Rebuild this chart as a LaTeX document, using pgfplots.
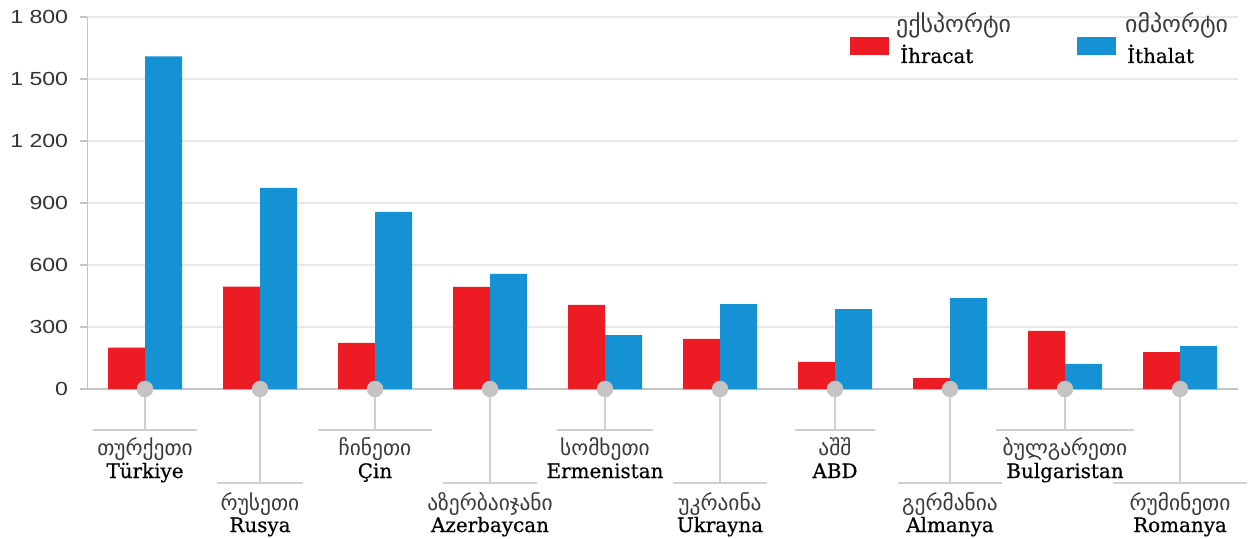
\documentclass[border=0pt]{standalone}
\usepackage{pgfplots}
\pgfplotsset{compat=1.18}
\usepackage{pgfplotstable}
\usepackage{fontspec}
\setmainfont{DejaVu Serif}[FakeBold=0.4]
\newfontfamily\tur{DejaVu Serif}[FakeBold=0.5]
\newfontfamily\geo{DejaVu Sans}
\newfontfamily\numfont{Liberation Sans}

\definecolor{expred}{HTML}{ED1C24}
\definecolor{impblue}{HTML}{1592D3}
\definecolor{axgray}{HTML}{C4C4C4}
\definecolor{gridgray}{HTML}{E8E8E8}
\definecolor{leadgray}{HTML}{CFCFCF}
\definecolor{dotgray}{HTML}{C4C4C4}
\definecolor{geotext}{HTML}{3A3A3A}

% export / import by country
\pgfplotstableread{
idx exp imp
0 200 1610
1 495 973
2 223 857
3 494 557
4 407 261
5 242 411
6 131 387
7 53 440
8 281 121
9 179 208
}\trade

% #1 index, #2 half width of the rule, #3 georgian, #4 turkish
\newcommand{\uplab}[4]{%
  \draw[leadgray, line width=2bp] (axis cs:#1,0) -- ([yshift=-41bp]axis cs:#1,0);
  \draw[leadgray, line width=2bp] ([shift={(-#2bp,-41bp)}]axis cs:#1,0) -- ([shift={(#2bp,-41bp)}]axis cs:#1,0);
  \node[anchor=base, inner sep=0pt, font=\geo\fontsize{21.5}{21.5}\selectfont, text=geotext] at ([yshift=-66bp]axis cs:#1,0) {#3};
  \node[anchor=base, inner sep=0pt, font=\tur\fontsize{20}{20}\selectfont] at ([yshift=-89bp]axis cs:#1,0) {#4};
}
\newcommand{\lowlab}[4]{%
  \draw[leadgray, line width=2bp] (axis cs:#1,0) -- ([yshift=-94bp]axis cs:#1,0);
  \draw[leadgray, line width=2bp] ([shift={(-#2bp,-94bp)}]axis cs:#1,0) -- ([shift={(#2bp,-94bp)}]axis cs:#1,0);
  \node[anchor=base, inner sep=0pt, font=\geo\fontsize{21.5}{21.5}\selectfont, text=geotext] at ([yshift=-121bp]axis cs:#1,0) {#3};
  \node[anchor=base, inner sep=0pt, font=\tur\fontsize{20}{20}\selectfont] at ([yshift=-143bp]axis cs:#1,0) {#4};
}

\begin{document}
\begin{tikzpicture}
\begin{axis}[
  at={(0,0)}, anchor=south west,
  scale only axis, width=1150bp, height=372bp,
  xmin=-0.5, xmax=9.5, ymin=0, ymax=1800,
  ytick={0,300,...,1800},
  xtick=\empty,
  axis lines*=left,
  axis line style={axgray, line width=1.5bp},
  ymajorgrids,
  grid style={gridgray, line width=1.5bp},
  tick align=outside,
  major tick length=7bp,
  tick style={axgray, line width=1.5bp},
  /pgf/number format/assume math mode=true,
  /pgf/number format/1000 sep={\ },
  yticklabel style={font=\numfont\fontsize{19}{19}\selectfont, text=black!80,
    xscale=1.22, inner sep=0pt, anchor=east, xshift=-10bp},
  clip=false,
]
\addplot[ybar, bar width=37bp, bar shift=-18.5bp, fill=expred, draw=none]
  table[x=idx, y=exp]{\trade};
\addplot[ybar, bar width=37bp, bar shift=18.5bp, fill=impblue, draw=none]
  table[x=idx, y=imp]{\trade};
\addplot[color=dotgray, only marks, mark=*, mark size=8bp, mark options={fill=dotgray, draw=dotgray}]
  coordinates {(0,0) (1,0) (2,0) (3,0) (4,0) (5,0) (6,0) (7,0) (8,0) (9,0)};

\uplab{0}{52}{თურქეთი}{Türkiye}
\lowlab{1}{43}{რუსეთი}{Rusya}
\uplab{2}{57}{ჩინეთი}{Çin}
\lowlab{3}{47}{აზერბაიჯანი}{Azerbaycan}
\uplab{4}{48}{სომხეთი}{Ermenistan}
\lowlab{5}{47}{უკრაინა}{Ukrayna}
\uplab{6}{40}{აშშ}{ABD}
\lowlab{7}{52}{გერმანია}{Almanya}
\uplab{8}{69}{ბულგარეთი}{Bulgaristan}
\lowlab{9}{67}{რუმინეთი}{Romanya}

% legend
\fill[expred] ([shift={(762.5bp,-20bp)}]rel axis cs:0,1) rectangle ([shift={(801.5bp,-38bp)}]rel axis cs:0,1);
\node[anchor=base west, inner sep=0pt, font=\geo\fontsize{24}{24}\selectfont, text=geotext]
  at ([shift={(808.5bp,-16bp)}]rel axis cs:0,1) {ექსპორტი};
\node[anchor=base west, inner sep=0pt, font=\tur\fontsize{20}{20}\selectfont]
  at ([shift={(812.5bp,-46bp)}]rel axis cs:0,1) {İhracat};
\fill[impblue] ([shift={(989.5bp,-20bp)}]rel axis cs:0,1) rectangle ([shift={(1028.5bp,-38bp)}]rel axis cs:0,1);
\node[anchor=base west, inner sep=0pt, font=\geo\fontsize{24}{24}\selectfont, text=geotext]
  at ([shift={(1037.5bp,-16bp)}]rel axis cs:0,1) {იმპორტი};
\node[anchor=base west, inner sep=0pt, font=\tur\fontsize{20}{20}\selectfont]
  at ([shift={(1039.5bp,-46bp)}]rel axis cs:0,1) {İthalat};
\end{axis}
\path[use as bounding box] (-87.5bp,-150bp) rectangle (1161.5bp,389bp);
\end{tikzpicture}
\end{document}
